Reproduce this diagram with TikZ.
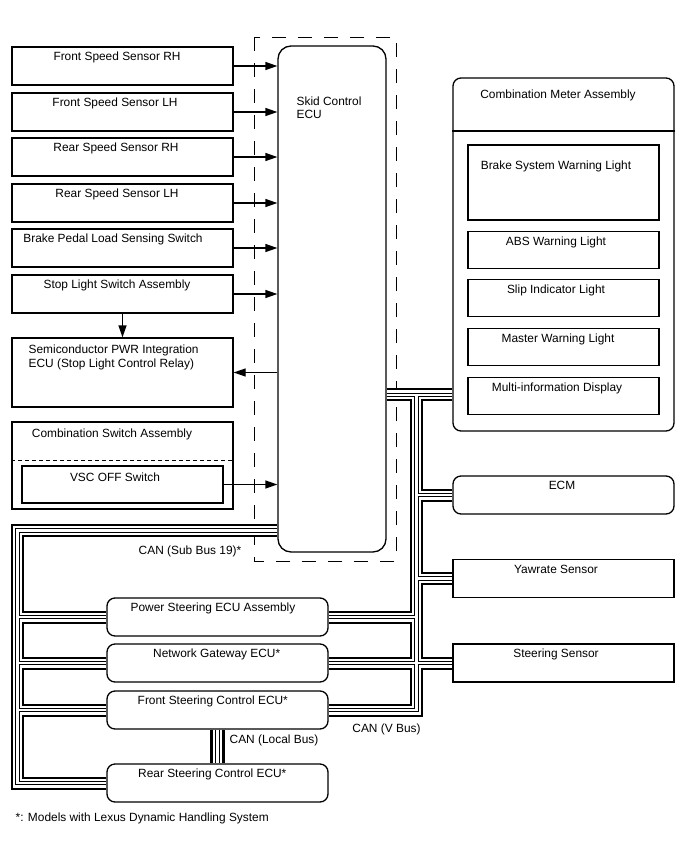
\documentclass[tikz,border=0pt]{standalone}
\usepackage{fontspec}
\setmainfont{Liberation Sans}
\usetikzlibrary{arrows.meta,backgrounds}

\begin{document}
\begin{tikzpicture}[x=1pt, y=-1pt, line width=1.3pt,
    >={Triangle[length=12pt, width=8pt]},
    every node/.style={font=\fontsize{11.9}{14}\selectfont, inner sep=0pt},
    txt/.style={text height=9.5pt, text depth=1pt},
    unit/.style={draw, minimum width=221pt, minimum height=38pt},
    ecu/.style={unit, rounded corners=8pt},
    lamp/.style={unit, minimum width=191pt, minimum height=37pt},
    can/.style={draw=white, line width=2.4pt,
      preaction={draw=black, line width=13pt},
      preaction={draw=white, line width=9pt},
      preaction={draw=black, line width=4.4pt}},
    localcan/.style={draw=white, line width=2.4pt,
      preaction={draw=black, line width=15pt},
      preaction={draw=white, line width=9pt},
      preaction={draw=black, line width=4.4pt}}]
  \useasboundingbox (0,0) rectangle (688,852);

  % Skid control ECU
  \node[unit, rounded corners=13pt, minimum width=108pt, minimum height=506pt] (skid) at (332,299) {};
  \node[anchor=north west, align=left, font=\fontsize{11.9}{13.3}\selectfont] (skid-txt) at (296,96) {Skid Control\\ECU};

  % Sensors and switches on the left
  \foreach \nm/\yc/\tx/\lbl in {fsrh/66/117/Front Speed Sensor RH, fslh/112/115/Front Speed Sensor LH,
      rsrh/157/116/Rear Speed Sensor RH, rslh/203/117/Rear Speed Sensor LH,
      bpls/248/113/Brake Pedal Load Sensing Switch, stop/294/117/Stop Light Switch Assembly} {
    \node[unit] (\nm) at (122.5,\yc) {};
    \node[txt] (\nm-txt) at (\tx,\yc-10) {\lbl};
    \draw[->] (\nm.east) -- (\nm.east -| skid.west);
  }

  % Stop light relay
  \node[unit, minimum height=69pt] (semi) at (122.5,372.5) {};
  \node[anchor=north west, align=left] (semi-txt) at (28,344) {Semiconductor PWR Integration\\ECU (Stop Light Control Relay)};
  \draw[->] (stop.south) -- (semi.north);
  \draw[->] (skid.west |- semi.east) -- (semi.east);

  % Combination switch
  \node[unit, minimum height=87pt] (cmbsw) at (122.5,465.5) {};
  \node[txt] (cmbsw-txt) at (112,433) {Combination Switch Assembly};
  \draw[line width=1pt, dash pattern=on 4pt off 3pt] (cmbsw.west |- 0,460) -- (cmbsw.east |- 0,460);
  \node[unit, minimum width=201pt, minimum height=37pt] (vsc) at (122.5,484.5) {};
  \node[txt] (vsc-txt) at (115,477) {VSC OFF Switch};
  \draw[->] (vsc.east) -- (vsc.east -| skid.west);

  % Combination meter
  \node[ecu, minimum height=353pt] (meter) at (563.5,254.5) {};
  \node[txt] (meter-txt) at (558,94) {Combination Meter Assembly};
  \draw (meter.west |- 0,131) -- (meter.east |- 0,131);
  \node[lamp, minimum height=75pt] (bswl) at (563.5,182.5) {};
  \node[txt] (bswl-txt) at (556,165) {Brake System Warning Light};
  \foreach \nm/\yc/\tx/\lbl in {abs/250/556/ABS Warning Light, slip/298/556/Slip Indicator Light,
      mwl/347/558/Master Warning Light, mid/396/557/Multi-information Display} {
    \node[lamp] (\nm) at (563.5,\yc) {};
    \node[txt] (\nm-txt) at (\tx,\yc-9) {\lbl};
  }

  % Other units on the V bus
  \node[ecu] (ecm) at (563.5,495) {};
  \node[txt] (ecm-txt) at (562,485) {ECM};
  \node[unit] (yaw) at (563.5,578.5) {};
  \node[txt] (yaw-txt) at (556,569) {Yawrate Sensor};
  \node[unit] (steer) at (563.5,663) {};
  \node[txt] (steer-txt) at (556,653) {Steering Sensor};

  % Steering ECUs
  \foreach \nm/\yc/\tx/\lbl in {ps/617/213/Power Steering ECU Assembly, ng/663/216.7/Network Gateway ECU*,
      fs/710/212.8/Front Steering Control ECU*, rs/783/212.3/Rear Steering Control ECU*} {
    \node[ecu] (\nm) at (217.5,\yc) {};
    \node[txt] (\nm-txt) at (\tx,\yc-10) {\lbl};
  }

  % Bus lines
  \begin{scope}[on background layer]
    \draw[dash pattern=on 14pt off 12pt] (254,37) rectangle (396,561);
    \coordinate (subbus) at (17.5,530.5);
    \coordinate (vbus) at (416.5,394.7);
    % CAN (Sub Bus 19)
    \draw[can] (skid.west |- subbus) -- (subbus) -- (subbus |- rs.west) -- (rs.west)
      (subbus |- ps.west) -- (ps.west)
      (subbus |- ng.west) -- (ng.west)
      (subbus |- fs.west) -- (fs.west);
    % CAN (V Bus)
    \draw[can] (skid.east |- vbus) -- (meter.west |- vbus)
      (vbus) -- (vbus |- fs.east) -- (fs.east)
      (vbus |- ps.east) -- (ps.east)
      (vbus |- ng.east) -- (ng.east)
      (vbus |- ecm.west) -- (ecm.west)
      (vbus |- yaw.west) -- (yaw.west)
      (vbus |- steer.west) -- (steer.west);
    % CAN (Local Bus)
    \draw[localcan] (fs.south) -- (rs.north);
  \end{scope}

  % Bus labels
  \node[txt] (sub-lbl) at (190,550) {CAN (Sub Bus 19)*};
  \node[txt] (local-lbl) at (274,739) {CAN (Local Bus)};
  \node[txt] (v-lbl) at (386.5,728) {CAN (V Bus)};
  \node[txt, anchor=west] (note) at (15,817) {*: Models with Lexus Dynamic Handling System};
\end{tikzpicture}
\end{document}
